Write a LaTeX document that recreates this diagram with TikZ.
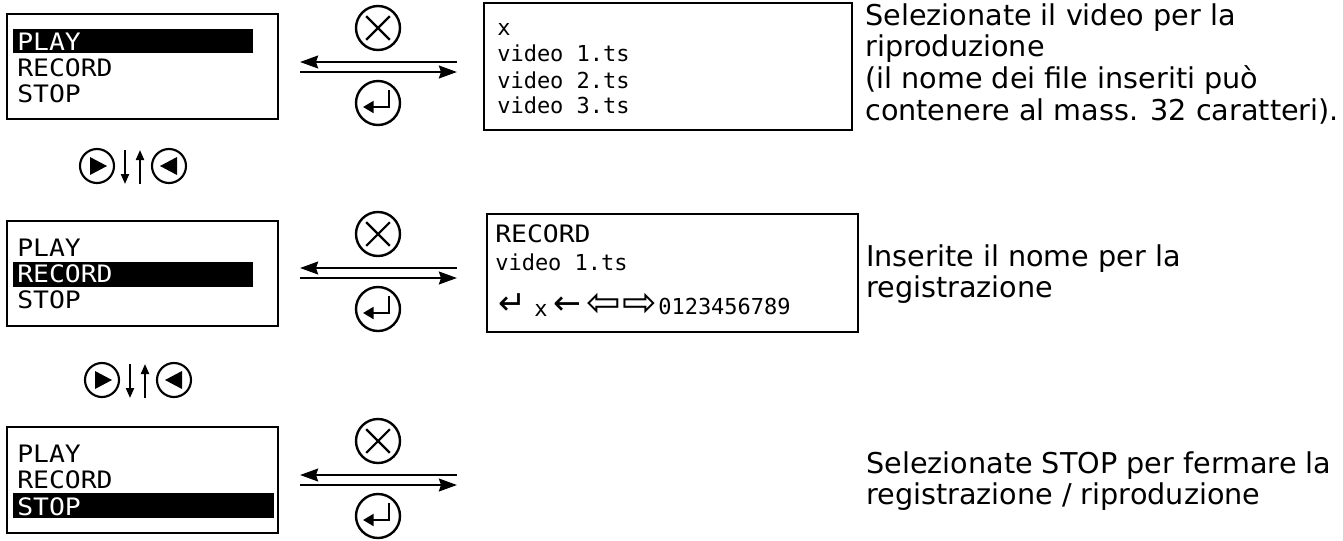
\documentclass[tikz,border=0pt]{standalone}
\usepackage{fontspec}
\setmainfont{DejaVu Sans}
\newfontfamily\lcdfont[FakeStretch=1.1]{DejaVu Sans Mono}
\newfontfamily\lcdlowfont{DejaVu Sans Mono}
\usetikzlibrary{arrows.meta,calc,fit,positioning}

\tikzset{
  lcdbox/.style={draw, line width=1.9pt, inner sep=0pt},
  lcdcap/.style={anchor=base west, inner sep=0pt, font=\lcdfont\fontsize{18pt}{18pt}\selectfont},
  lcdlow/.style={anchor=base west, inner sep=0pt, font=\lcdlowfont\fontsize{16.5pt}{16.5pt}\selectfont},
  lcdsym/.style={anchor=base west, inner sep=0pt, font=\fontsize{25pt}{25pt}\selectfont},
  note/.style={anchor=north west, inner sep=0pt, align=left, font=\fontsize{21.5pt}{23.8pt}\selectfont},
  key/.style={circle, draw, line width=1.8pt, minimum size=33pt, inner sep=0pt},
  smallkey/.style={circle, draw, line width=1.6pt, minimum size=25.5pt, inner sep=0pt},
  longarr/.style={-{Stealth[length=13.5pt,width=9.5pt,inset=1.5pt]}, line width=2pt},
  smallarr/.style={-{Triangle[length=7.5pt,width=6pt]}, line width=1.5pt},
}

\begin{document}
\begin{tikzpicture}[x=0.75pt,y=-0.75pt]
\useasboundingbox (0,0) rectangle (1343,540);

% schermata PLAY
\node[lcdbox, fit={(7,14) (278,119)}] (menu1) {};
\fill (13,29) rectangle (253,53);
\node[lcdcap, white] (play1) at (17,50) {PLAY};
\node[lcdcap] (rec1) at (17,76) {RECORD};
\node[lcdcap] (stop1) at (17,102) {STOP};

\node[lcdbox, fit={(484,3) (852,130)}] (list1) {};
\node[lcdlow] (x1) at (497,35) {x};
\node[lcdlow] (vid1) at (497,61) {video 1.ts};
\node[lcdlow] (vid2) at (497,88) {video 2.ts};
\node[lcdlow] (vid3) at (497,113) {video 3.ts};

% schermata RECORD
\node[lcdbox, fit={(7,221) (278,326)}] (menu2) {};
\fill (13,262) rectangle (253,287);
\node[lcdcap] (play2) at (17,256) {PLAY};
\node[lcdcap, white] (rec2) at (17,282) {RECORD};
\node[lcdcap] (stop2) at (17,308) {STOP};

\node[lcdbox, fit={(487,214) (858,332)}] (list2) {};
\node[lcdcap] (rectitle) at (495,242) {RECORD};
\node[lcdlow] (recname) at (495,270) {video 1.ts};
\node[lcdsym] (enter) at (498,314) {↵};
\node[lcdlow] (cancel) at (534,316) {x};
\node[lcdsym] (bksp) at (553,314) {←};
\node[lcdsym, font=\fontsize{31pt}{31pt}\selectfont] (left) at (586,316) {⇦};
\node[lcdsym, font=\fontsize{31pt}{31pt}\selectfont] (right) at (622,316) {⇨};
\node[lcdlow] (digits) at (658,314) {0123456789};

% schermata STOP
\node[lcdbox, fit={(7,427) (278,533)}] (menu3) {};
\fill (13,493) rectangle (274,518);
\node[lcdcap] (play3) at (17,462) {PLAY};
\node[lcdcap] (rec3) at (17,488) {RECORD};
\node[lcdcap, white] (stop3) at (17,515) {STOP};

%frecce e tasti tra le schermate
\foreach \c [count=\r] in {67,273,480}
{
\coordinate (L\r) at (300,\c);
\coordinate (R\r) at (457,\c);
\draw[longarr] ($(R\r)+(0,-5)$) -- ($(L\r)+(0,-5)$);
\draw[longarr] ($(L\r)+(0,5)$) -- ($(R\r)+(0,5)$);
\node[key] (esc\r) at (378,\c-39) {};
\draw[line width=1.6pt] ($(esc\r)!0.72!(esc\r.45)$) -- ($(esc\r)!0.72!(esc\r.225)$)
  ($(esc\r)!0.72!(esc\r.135)$) -- ($(esc\r)!0.72!(esc\r.315)$);
\node[key] (ok\r) at (378,\c+36) {};
\draw[line width=1.6pt, -{Triangle[length=8pt,width=9pt]}] ($(ok\r)+(11,-13)$) |- ($(ok\r)+(-15,4)$);
}

%tasti di scorrimento
\foreach \dx/\dy [count=\s] in {0/0,5/214}
{
\begin{scope}[shift={(\dx,\dy)}]
\node[smallkey] (fwd\s) at (97,166) {};
\fill ($(fwd\s)+(-7,-9)$) -- ($(fwd\s)+(-7,9)$) -- ($(fwd\s)+(10,0)$) -- cycle;
\draw[smallarr] (125,150) -- (125,184);
\draw[smallarr] (140,184) -- (140,150);
\node[smallkey] (back\s) at (169,166) {};
\fill ($(back\s)+(8,-9)$) -- ($(back\s)+(8,9)$) -- ($(back\s)+(-9,0)$) -- cycle;
\end{scope}
}

% testi
\node[note] (note1) at (865,3) {Selezionate il video per la\\riproduzione\\(il nome dei file inseriti può\\contenere al mass. 32 caratteri).};
\node[note] (note2) at (866,244) {Inserite il nome per la\\registrazione};
\node[note] (note3) at (866,451) {Selezionate STOP per fermare la\\registrazione / riproduzione};

\end{tikzpicture}
\end{document}
